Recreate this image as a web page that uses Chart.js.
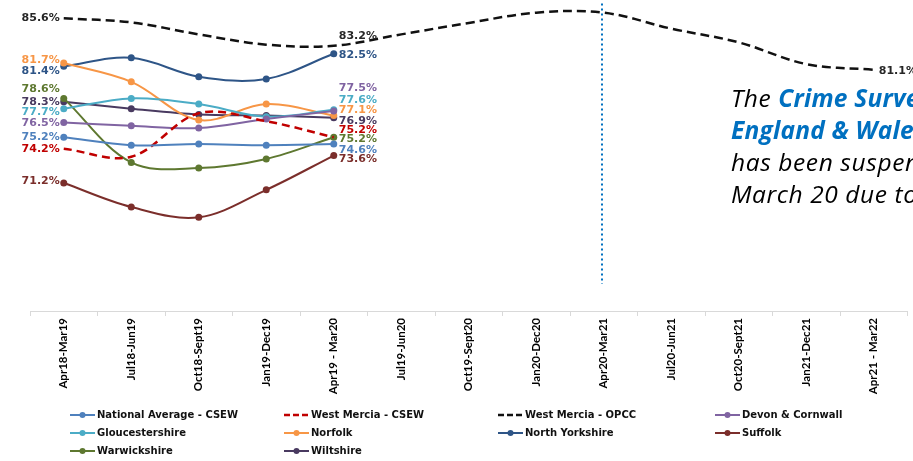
<!DOCTYPE html>
<html>
<head>
<meta charset="utf-8">
<script src="https://cdn.jsdelivr.net/npm/chart.js@4/dist/chart.umd.min.js"></script>
<style>
  html, body { margin: 0; padding: 0; background: #fff; overflow: hidden; }
  #wrap { position: relative; width: 913px; height: 461px; overflow: hidden; }
  #note {
    position: absolute; left: 731px; top: 82px;
    font-family: "Open Sans", sans-serif; font-style: italic; font-size: 24.5px;
    line-height: 32px; white-space: nowrap; color: #000; letter-spacing: 0.6px;
  }
  #note b { color: #0070C0; font-weight: 700; letter-spacing: 0.2px; }
</style>
</head>
<body>
<div id="wrap">
  <canvas id="c" width="913" height="461"></canvas>
  <div id="note">The <b>Crime Survey for</b><br><b>England &amp; Wales</b><br>has been suspended since<br>March 20 due to Covid-19</div>
</div>
<script>
// Rolling 12-month periods
const categories = ['Apr18-Mar19', 'Jul18-Jun19', 'Oct18-Sept19', 'Jan19-Dec19', 'Apr19 - Mar20',
  'Jul19-Jun20', 'Oct19-Sept20', 'Jan20-Dec20', 'Apr20-Mar21', 'Jul20-Jun21',
  'Oct20-Sept21', 'Jan21-Dec21', 'Apr21 - Mar22'];

// Percentages per series (CSEW series stop at Apr19 - Mar20)
const nationalAverageCSEW = [75.2, 74.5, 74.6, 74.5, 74.6];
const westMerciaCSEW      = [74.2, 73.5, 77.3, 76.6, 75.2];
const westMerciaOPCC      = [85.6, 85.25, 84.2, 83.3, 83.2, 84.2, 85.2, 86.1, 86.1, 84.7, 83.5, 81.6, 81.1];
const devonCornwall       = [76.5, 76.2, 76.0, 76.8, 77.5];
const gloucestershire     = [77.7, 78.6, 78.1, 77.0, 77.6];
const norfolk             = [81.7, 80.05, 76.7, 78.1, 77.1];
const northYorkshire      = [81.4, 82.15, 80.5, 80.3, 82.5];
const suffolk             = [71.2, 69.1, 68.2, 70.6, 73.6];
const warwickshire        = [78.6, 73.0, 72.5, 73.3, 75.2];
const wiltshire           = [78.3, 77.7, 77.2, 77.1, 76.9];

const seriesNames = ['National Average - CSEW', 'West Mercia - CSEW', 'West Mercia - OPCC', 'Devon & Cornwall',
  'Gloucestershire', 'Norfolk', 'North Yorkshire', 'Suffolk', 'Warwickshire', 'Wiltshire'];
const seriesValues = [nationalAverageCSEW, westMerciaCSEW, westMerciaOPCC, devonCornwall,
  gloucestershire, norfolk, northYorkshire, suffolk, warwickshire, wiltshire];

// Appearance: colour, dash pattern, markers, and which points carry a value tag (index, vertical nudge in px)
const seriesStyle = [
  { color: '#4F81BD', dash: null,   marker: true,  tags: [[0, 0], [4, 6]] },
  { color: '#C00000', dash: [8, 5], marker: false, tags: [[0, 0], [4, -7]] },
  { color: '#111111', dash: [9, 5], marker: false, tags: [[0, 0], [4, -10], [12, 1]] },
  { color: '#8064A2', dash: null,   marker: true,  tags: [[0, 1], [4, -23]] },
  { color: '#4BACC6', dash: null,   marker: true,  tags: [[0, 3], [4, -10]] },
  { color: '#F79646', dash: null,   marker: true,  tags: [[0, -3], [4, -5]] },
  { color: '#2E5587', dash: null,   marker: true,  tags: [[0, 5], [4, 1]] },
  { color: '#7B2E2B', dash: null,   marker: true,  tags: [[0, -2], [4, 4]] },
  { color: '#5E7830', dash: null,   marker: true,  tags: [[0, -9], [4, 2]] },
  { color: '#493A60', dash: null,   marker: true,  tags: [[0, 0], [4, 3]] }
];

const pad = (arr) => categories.map((_, i) => (i < arr.length ? arr[i] : null));

const datasets = seriesNames.map((name, i) => {
  const s = seriesStyle[i];
  return {
    label: name,
    data: pad(seriesValues[i]),
    borderColor: s.color,
    backgroundColor: s.color,
    borderWidth: s.dash ? 2.5 : 2,
    borderDash: s.dash || [],
    pointRadius: s.marker ? 3.5 : 0,
    pointHoverRadius: 0,
    pointBorderWidth: 0,
    pointBackgroundColor: s.color,
    tension: 0.35,
    spanGaps: false,
    clip: false,
    fill: false
  };
});

const TAG_FONT = 'bold 11px "DejaVu Sans", sans-serif';

// Value tags beside the first/last points
const valueTags = {
  id: 'valueTags',
  afterDatasetsDraw(chart) {
    const ctx = chart.ctx;
    ctx.save();
    ctx.font = TAG_FONT;
    ctx.textBaseline = 'middle';
    seriesStyle.forEach((s, di) => {
      const meta = chart.getDatasetMeta(di);
      s.tags.forEach(([idx, dy]) => {
        const el = meta.data[idx];
        const v = seriesValues[di][idx];
        if (!el || v == null) return;
        const txt = v.toFixed(1) + '%';
        ctx.fillStyle = s.color === '#111111' ? '#262626' : s.color;
        if (idx === 0) {
          ctx.textAlign = 'right';
          ctx.fillText(txt, el.x - 4, el.y + dy);
        } else {
          ctx.textAlign = 'left';
          ctx.fillText(txt, el.x + 5, el.y + dy);
        }
      });
    });
    ctx.restore();
  }
};

// Dotted marker at the period the survey was suspended
const suspendLine = {
  id: 'suspendLine',
  afterDatasetsDraw(chart) {
    const ctx = chart.ctx;
    const x = Math.round(chart.scales.x.getPixelForValue(8)) - 2;
    ctx.save();
    ctx.strokeStyle = '#0070C0';
    ctx.lineWidth = 2;
    ctx.setLineDash([2, 3]);
    ctx.beginPath();
    ctx.moveTo(x, chart.chartArea.top);
    ctx.lineTo(x, chart.chartArea.bottom - 27);
    ctx.stroke();
    ctx.restore();
  }
};

// Four-column legend below the axis labels
const gridLegend = {
  id: 'gridLegend',
  afterDraw(chart) {
    const ctx = chart.ctx;
    const colX = [70, 284, 498, 715];
    const rowY = [415, 433, 451];
    ctx.save();
    ctx.font = 'bold 10px "DejaVu Sans", sans-serif';
    ctx.textBaseline = 'middle';
    ctx.textAlign = 'left';
    seriesNames.forEach((name, i) => {
      const s = seriesStyle[i];
      const x0 = colX[i % 4];
      const y = rowY[Math.floor(i / 4)];
      ctx.strokeStyle = s.color;
      ctx.lineWidth = s.dash ? 2.5 : 2;
      ctx.setLineDash(s.dash ? [6, 3] : []);
      ctx.beginPath();
      ctx.moveTo(x0, y);
      ctx.lineTo(x0 + 25, y);
      ctx.stroke();
      ctx.setLineDash([]);
      if (s.marker) {
        ctx.fillStyle = s.color;
        ctx.beginPath();
        ctx.arc(x0 + 12.5, y, 3, 0, Math.PI * 2);
        ctx.fill();
      }
      ctx.fillStyle = '#111';
      ctx.fillText(name, x0 + 27, y + 0.5);
    });
    ctx.restore();
  }
};

new Chart(document.getElementById('c'), {
  type: 'line',
  data: { labels: categories, datasets },
  options: {
    responsive: false,
    animation: false,
    devicePixelRatio: 1,
    layout: { padding: { left: 30, right: 5.5, top: 0, bottom: 0 } },
    plugins: { legend: { display: false }, tooltip: { enabled: false } },
    scales: {
      x: {
        offset: true,
        grid: { offset: true, drawOnChartArea: false, drawTicks: true, tickLength: 5, color: '#d9d9d9' },
        border: { display: true, color: '#d9d9d9' },
        ticks: {
          autoSkip: false, maxRotation: 90, minRotation: 90, padding: 2, color: '#000',
          font: { family: 'Lato', weight: 'bold', size: 11.5 }
        },
        afterFit(scale) { scale.height = 150; }
      },
      y: { display: false, min: 60, max: 86.9 }
    }
  },
  plugins: [valueTags, suspendLine, gridLegend]
});
</script>
</body>
</html>
